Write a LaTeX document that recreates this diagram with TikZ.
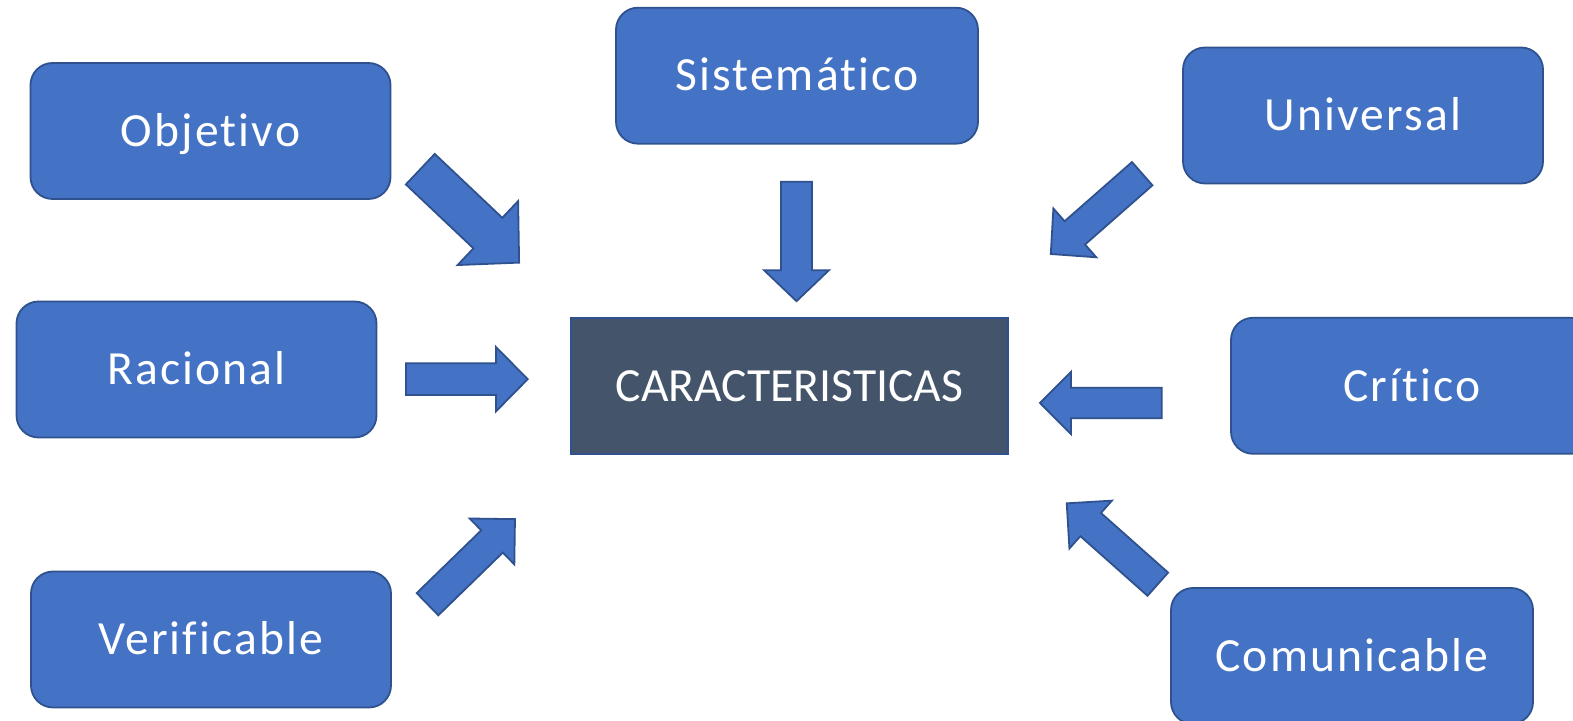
\documentclass[tikz,border=0pt]{standalone}
\usepackage{fontspec}
\setmainfont{Carlito}[Ligatures={NoCommon}]
\newfontfamily\cardfont{Carlito}[Ligatures={NoCommon}, LetterSpace=4.5]
\definecolor{boxblue}{HTML}{4472C4}
\definecolor{edgeblue}{HTML}{2F528F}
\definecolor{slate}{HTML}{44546A}
\tikzset{
  card/.style={draw=edgeblue, fill=boxblue, line width=0.9pt, rounded corners=11pt,
    minimum width=180pt, minimum height=68pt, inner sep=0pt, text=white,
    text height=15.3pt, text depth=0pt,
    font=\cardfont\fontsize{23.8}{28}\selectfont},
  hub/.style={draw=edgeblue, fill=slate, line width=0.9pt,
    minimum width=218.5pt, minimum height=68.3pt, inner sep=0pt, text=white,
    text height=15.3pt, text depth=0pt,
    font=\fontsize{23.8}{28}\selectfont},
  blockarrow/.style={draw=edgeblue, fill=boxblue, line width=0.9pt, line join=miter},
  pics/barrow/.style n args={4}{code={
    \draw[blockarrow] (0,-#2/2) -- ({#1-#4},-#2/2) -- ({#1-#4},-#3/2) -- (#1,0)
      -- ({#1-#4},#3/2) -- ({#1-#4},#2/2) -- (0,#2/2) -- cycle;
  }}
}
\begin{document}
\begin{tikzpicture}[x=0.5pt, y=0.5pt]
\clip (0,0) rectangle (1573,721);
\fill[white] (0,0) rectangle (1573,721);
% boxes
\node[card] (obj) at (210.5,590) {Objetivo};
\node[card, minimum width=181pt] (sis) at (797,645.3) {Sistemático};
\node[card] (uni) at (1363,605.5) {Universal};
\node[card] (rac) at (196.5,351.5) {Racional};
\node[card, minimum width=181pt] (cri) at (1412,335.2) {Crítico};
\node[card] (ver) at (211,81.5) {Verificable};
\node[card, minimum width=181pt] (com) at (1352,65) {Comunicable};
\node[hub] (car) at (789.5,335) {CARACTERISTICAS};
% block arrows
\pic[rotate=-43.4] (aobj) at (420.3,551.8) {barrow={136}{42}{88}{43}};
\pic[rotate=-90] (asis) at (796.5,539.3) {barrow={119.5}{31}{65}{31}};
\pic[rotate=221.3] (auni) at (1142.2,547.3) {barrow={121.7}{31}{65}{32}};
\pic[rotate=0] (arac) at (406,341.8) {barrow={121.7}{31.7}{64.3}{31.7}};
\pic[rotate=180] (acri) at (1161.7,318) {barrow={121.7}{30.6}{62.3}{31}};
\pic[rotate=44.2] (aver) at (427.5,116.8) {barrow={122}{31}{64}{32}};
\pic[rotate=138.4] (acom) at (1157.8,136.8) {barrow={121.8}{31}{64}{32}};
\end{tikzpicture}
\end{document}
